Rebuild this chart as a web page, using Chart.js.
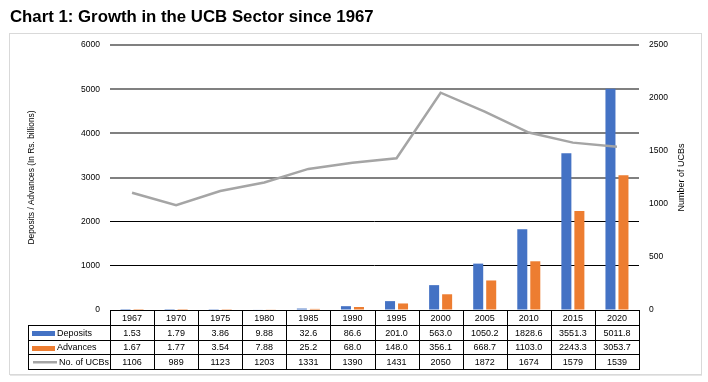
<!DOCTYPE html>
<html>
<head>
<meta charset="utf-8">
<script src="https://cdn.jsdelivr.net/npm/chart.js@4/dist/chart.umd.min.js"></script>
<style>
  html, body { margin: 0; padding: 0; background: #fff; }
  #wrap { position: relative; width: 708px; height: 382px; }
</style>
</head>
<body>
<div id="wrap"><canvas id="c" width="708" height="382"></canvas></div>
<script>
// ---- data ----
const categories = ['1967','1970','1975','1980','1985','1990','1995','2000','2005','2010','2015','2020'];
const deposits = [1.53, 1.79, 3.86, 9.88, 32.6, 86.6, 201.0, 563.0, 1050.2, 1828.6, 3551.3, 5011.8];
const advances = [1.67, 1.77, 3.54, 7.88, 25.2, 68.0, 148.0, 356.1, 668.7, 1103.0, 2243.3, 3053.7];
const ucbs = [1106, 989, 1123, 1203, 1331, 1390, 1431, 2050, 1872, 1674, 1579, 1539];
const leftTicks = [0, 1000, 2000, 3000, 4000, 5000, 6000];
const rightTicks = [0, 500, 1000, 1500, 2000, 2500];
const seriesNames = ['Deposits', 'Advances', 'No. of UCBs'];
const titleText = 'Chart 1: Growth in the UCB Sector since 1967';
const leftTitle = 'Deposits / Advances (In Rs. billions)';
const rightTitle = 'Number of UCBs';

const BLUE = '#4472C4', ORANGE = '#ED7D31', GRAY = '#A5A5A5';
const FONT = "'Liberation Sans', Arial, sans-serif";

function fmtAmt(v) { return v < 10 ? v.toFixed(2) : v.toFixed(1); }

const decorPlugin = {
  id: 'decor',
  beforeDraw(chart) {
    const ctx = chart.ctx;
    ctx.save();
    ctx.fillStyle = '#fff';
    ctx.fillRect(0, 0, chart.width, chart.height);
    ctx.strokeStyle = '#d9d9d9';
    ctx.lineWidth = 1;
    ctx.strokeRect(9.5, 33.5, 692, 341);
    ctx.strokeStyle = '#e6e6e6';
    ctx.beginPath(); ctx.moveTo(10, 375.5); ctx.lineTo(702, 375.5); ctx.stroke();
    ctx.fillStyle = '#000';
    ctx.font = "bold 16.8px " + FONT;
    ctx.textBaseline = 'alphabetic';
    ctx.textAlign = 'left';
    ctx.fillText(titleText, 10, 22);
    ctx.restore();
  },
  afterDraw(chart) {
    const ctx = chart.ctx;
    const xs = chart.scales.x;
    const area = chart.chartArea;
    const n = categories.length;
    const w = (area.right - area.left) / n;
    const rows = [310, 325, 339.5, 354, 368.5].map(Math.round);
    const legL = 28;
    ctx.save();
    // right axis title (reads bottom to top)
    ctx.save();
    ctx.translate(682, (area.top + area.bottom) / 2);
    ctx.rotate(-Math.PI / 2);
    ctx.fillStyle = '#000';
    ctx.font = "9px " + FONT;
    ctx.textAlign = 'center';
    ctx.textBaseline = 'middle';
    ctx.fillText(rightTitle, 0, 0);
    ctx.restore();

    ctx.strokeStyle = '#000';
    ctx.lineWidth = 1;
    const hl = (x1, x2, y) => { ctx.beginPath(); ctx.moveTo(x1, y + 0.5); ctx.lineTo(x2, y + 0.5); ctx.stroke(); };
    const vl = (x, y1, y2) => { const xx = Math.round(x) + 0.5; ctx.beginPath(); ctx.moveTo(xx, y1); ctx.lineTo(xx, y2 + 1); ctx.stroke(); };
    const R = Math.round(area.right), L = Math.round(area.left);
    hl(L, R + 1, rows[0]);
    for (let r = 1; r < rows.length; r++) hl(legL, R + 1, rows[r]);
    for (let i = 0; i <= n; i++) vl(area.left + i * w, rows[0], rows[4]);
    vl(legL, rows[1], rows[4]);
    ctx.fillStyle = '#000';
    ctx.font = "9px " + FONT;
    ctx.textAlign = 'center';
    ctx.textBaseline = 'middle';
    const rowVals = [categories, deposits.map(fmtAmt), advances.map(fmtAmt), ucbs.map(String)];
    for (let r = 0; r < 4; r++) {
      const yc = (rows[r] + rows[r + 1]) / 2 + 1;
      for (let i = 0; i < n; i++) {
        ctx.fillText(rowVals[r][i], xs.getPixelForValue(i), yc);
      }
    }
    ctx.textAlign = 'left';
    const colors = [BLUE, ORANGE, GRAY];
    for (let k = 0; k < 3; k++) {
      const yc = (rows[k + 1] + rows[k + 2]) / 2 + 0.5;
      ctx.fillStyle = colors[k];
      if (k < 2) ctx.fillRect(32, Math.round(yc) - 2, 23, 5);
      else ctx.fillRect(33, Math.round(yc) - 1, 24, 2.5);
      ctx.fillStyle = '#000';
      ctx.fillText(seriesNames[k], k < 2 ? 57 : 59, yc + 0.5);
    }
    ctx.restore();
  }
};

new Chart(document.getElementById('c'), {
  type: 'bar',
  data: {
    labels: categories,
    datasets: [
      { type: 'line', label: seriesNames[2], data: ucbs, yAxisID: 'y2', borderColor: GRAY, backgroundColor: GRAY,
        borderWidth: 2.5, pointRadius: 0, tension: 0, order: 0 },
      { label: seriesNames[0], data: deposits, yAxisID: 'y', backgroundColor: BLUE, order: 1,
        categoryPercentage: 0.59, barPercentage: 0.77 },
      { label: seriesNames[1], data: advances, yAxisID: 'y', backgroundColor: ORANGE, order: 1,
        categoryPercentage: 0.59, barPercentage: 0.77 }
    ]
  },
  options: {
    responsive: false,
    animation: false,
    devicePixelRatio: 1,
    layout: { padding: { left: 0, right: 0, top: 45, bottom: 72 } },
    plugins: { legend: { display: false }, tooltip: { enabled: false } },
    scales: {
      x: {
        type: 'category',
        grid: { display: false },
        border: { display: false },
        ticks: { display: false },
        afterFit(s) { s.height = 0; }
      },
      y: {
        position: 'left',
        min: 0, max: 6000,
        afterBuildTicks(s) { s.ticks = leftTicks.map(v => ({ value: v })); },
        grid: {
          drawTicks: false,
          color: c => (c.tick && c.tick.value >= 3000) ? '#808080' : (c.tick && c.tick.value === 0 ? 'rgba(0,0,0,0)' : '#000'),
          lineWidth: c => (c.tick && c.tick.value >= 3000) ? 2 : 1
        },
        border: { display: false },
        ticks: { padding: 10, color: '#000', font: { family: FONT, size: 8.5 }, callback: v => String(v) },
        title: { display: true, text: leftTitle, color: '#000', font: { family: FONT, size: 8.4 }, padding: { top: 27, bottom: 0 } },
        afterFit(s) { s.width = 110; }
      },
      y2: {
        position: 'right',
        min: 0, max: 2500,
        afterBuildTicks(s) { s.ticks = rightTicks.map(v => ({ value: v })); },
        grid: { display: false, drawOnChartArea: false, drawTicks: false },
        border: { display: false },
        ticks: { padding: 10, color: '#000', font: { family: FONT, size: 8.5 }, callback: v => String(v) },
        title: { display: false },
        afterFit(s) { s.width = 69; }
      }
    }
  },
  plugins: [decorPlugin]
});
</script>
</body>
</html>
